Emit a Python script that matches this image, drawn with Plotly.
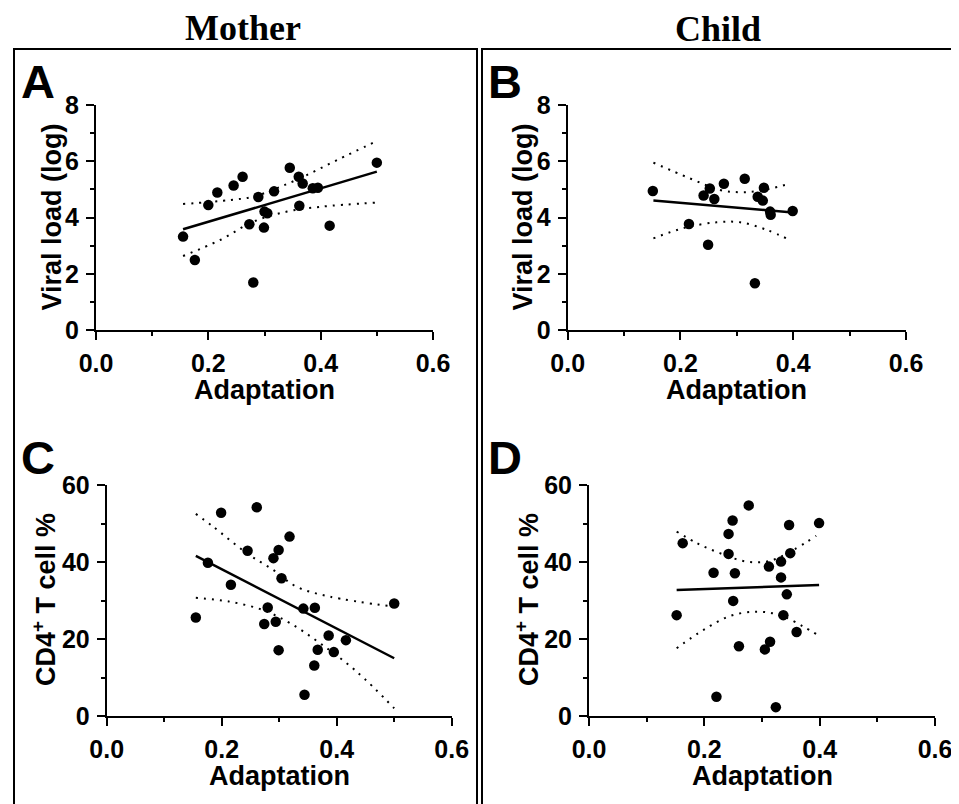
import plotly.graph_objects as go

# ---------------- data ----------------
# Panel A: Mother, viral load vs adaptation
mother_vl_adapt = [0.155, 0.176, 0.200, 0.216, 0.245, 0.261, 0.273, 0.280, 0.289, 0.299, 0.300,
                   0.305, 0.317, 0.345, 0.361, 0.362, 0.368, 0.386, 0.395, 0.416, 0.500]
mother_vl = [3.32, 2.49, 4.44, 4.89, 5.14, 5.45, 3.76, 1.69, 4.73, 3.64, 4.21,
             4.15, 4.93, 5.77, 5.45, 4.42, 5.21, 5.04, 5.06, 3.71, 5.95]
mother_vl_fit_x = [0.155, 0.500]
mother_vl_fit_y = [3.58, 5.63]
mother_vl_upper_x = [0.155, 0.239, 0.280, 0.322, 0.369, 0.429, 0.500]
mother_vl_upper_y = [4.48, 4.62, 4.74, 5.04, 5.45, 6.04, 6.72]
mother_vl_lower_x = [0.155, 0.221, 0.280, 0.340, 0.399, 0.500]
mother_vl_lower_y = [2.63, 3.20, 3.85, 4.21, 4.38, 4.53]

# Panel B: Child, viral load vs adaptation
child_vl_adapt = [0.151, 0.215, 0.241, 0.249, 0.252, 0.260, 0.277, 0.314, 0.332, 0.337, 0.346,
                  0.348, 0.359, 0.360, 0.399]
child_vl = [4.94, 3.77, 4.78, 3.03, 5.03, 4.66, 5.20, 5.38, 1.66, 4.74, 4.60,
            5.06, 4.21, 4.10, 4.23]
child_vl_fit_x = [0.152, 0.399]
child_vl_fit_y = [4.60, 4.18]
child_vl_upper_x = [0.152, 0.217, 0.270, 0.306, 0.341, 0.391]
child_vl_upper_y = [5.95, 5.39, 4.98, 4.90, 4.95, 5.19]
child_vl_lower_x = [0.152, 0.205, 0.264, 0.306, 0.353, 0.394]
child_vl_lower_y = [3.26, 3.62, 3.83, 3.83, 3.56, 3.20]

# Panel C: Mother, CD4+ T cell % vs adaptation
mother_cd4_adapt = [0.155, 0.176, 0.199, 0.216, 0.245, 0.261, 0.274, 0.280, 0.290, 0.294, 0.299,
                    0.299, 0.304, 0.318, 0.342, 0.344, 0.361, 0.362, 0.367, 0.386, 0.395,
                    0.416, 0.500]
mother_cd4 = [25.6, 39.8, 52.8, 34.1, 42.9, 54.2, 23.9, 28.2, 41.0, 24.5, 43.1,
              17.1, 35.8, 46.6, 27.9, 5.5, 13.1, 28.1, 17.2, 20.9, 16.6,
              19.7, 29.2]
mother_cd4_fit_x = [0.155, 0.500]
mother_cd4_fit_y = [41.6, 15.0]
mother_cd4_upper_x = [0.155, 0.185, 0.2435, 0.290, 0.330, 0.388, 0.500]
mother_cd4_upper_y = [52.5, 49.2, 42.3, 37.9, 33.6, 31.0, 28.4]
mother_cd4_lower_x = [0.155, 0.214, 0.272, 0.319, 0.371, 0.435, 0.500]
mother_cd4_lower_y = [30.7, 29.7, 27.5, 24.1, 18.9, 11.5, 2.0]

# Panel D: Child, CD4+ T cell % vs adaptation
child_cd4_adapt = [0.152, 0.1625, 0.216, 0.221, 0.242, 0.242, 0.249, 0.250, 0.253, 0.260, 0.277,
                   0.305, 0.312, 0.314, 0.324, 0.333, 0.333, 0.337, 0.343, 0.347, 0.349,
                   0.360, 0.399]
child_cd4 = [26.2, 44.9, 37.2, 5.0, 47.3, 42.1, 50.8, 29.9, 37.1, 18.1, 54.7,
             17.3, 38.8, 19.3, 2.3, 40.1, 36.0, 26.2, 31.6, 49.6, 42.3,
             21.8, 50.1]
child_cd4_fit_x = [0.152, 0.399]
child_cd4_fit_y = [32.7, 34.0]
child_cd4_upper_x = [0.152, 0.187, 0.227, 0.273, 0.314, 0.354, 0.394]
child_cd4_upper_y = [47.9, 44.9, 42.3, 40.1, 40.3, 43.1, 46.8]
child_cd4_lower_x = [0.152, 0.198, 0.245, 0.291, 0.331, 0.372, 0.394]
child_cd4_lower_y = [17.6, 22.3, 26.0, 27.1, 26.2, 23.2, 21.3]

x_title = "Adaptation"
vl_title = "Viral load (log)"
cd4_title = "CD4<sup>+</sup> T cell %"
group_titles = ["Mother", "Child"]
panel_letters = ["A", "B", "C", "D"]

# ---------------- layout helpers ----------------
# The page body has an 8px margin, so the figure is drawn 8px in from the window corner.
OFF = 8
W, H = 959 - OFF, 804 - OFF
def fx(p):
    return (p - OFF) / W
def fy(p):
    return 1 - (p - OFF) / H

SANS = "Liberation Sans, Arial, sans-serif"
SERIF = "Liberation Serif, Times New Roman, serif"

fig = go.Figure()

panels = [
    dict(ax="", x=mother_vl_adapt, y=mother_vl, fx_=mother_vl_fit_x, fy_=mother_vl_fit_y,
         ux=mother_vl_upper_x, uy=mother_vl_upper_y, lx=mother_vl_lower_x, ly=mother_vl_lower_y),
    dict(ax="2", x=child_vl_adapt, y=child_vl, fx_=child_vl_fit_x, fy_=child_vl_fit_y,
         ux=child_vl_upper_x, uy=child_vl_upper_y, lx=child_vl_lower_x, ly=child_vl_lower_y),
    dict(ax="3", x=mother_cd4_adapt, y=mother_cd4, fx_=mother_cd4_fit_x, fy_=mother_cd4_fit_y,
         ux=mother_cd4_upper_x, uy=mother_cd4_upper_y, lx=mother_cd4_lower_x, ly=mother_cd4_lower_y),
    dict(ax="4", x=child_cd4_adapt, y=child_cd4, fx_=child_cd4_fit_x, fy_=child_cd4_fit_y,
         ux=child_cd4_upper_x, uy=child_cd4_upper_y, lx=child_cd4_lower_x, ly=child_cd4_lower_y),
]

dot_line = dict(color="black", width=2, dash="2px,6px", shape="spline", smoothing=1)
for p in panels:
    xa, ya = "x" + p["ax"], "y" + p["ax"]
    fig.add_trace(go.Scatter(x=p["ux"], y=p["uy"], mode="lines", line=dot_line,
                             xaxis=xa, yaxis=ya, showlegend=False, hoverinfo="skip"))
    fig.add_trace(go.Scatter(x=p["lx"], y=p["ly"], mode="lines", line=dot_line,
                             xaxis=xa, yaxis=ya, showlegend=False, hoverinfo="skip"))
    fig.add_trace(go.Scatter(x=p["fx_"], y=p["fy_"], mode="lines",
                             line=dict(color="black", width=2.5),
                             xaxis=xa, yaxis=ya, showlegend=False, hoverinfo="skip"))
    fig.add_trace(go.Scatter(x=p["x"], y=p["y"], mode="markers",
                             marker=dict(color="black", size=10.5, line=dict(width=0)),
                             cliponaxis=False,
                             xaxis=xa, yaxis=ya, showlegend=False))

tickfont = dict(family=SANS, size=25, color="black", weight="bold")

def xaxis(dom, anchor):
    return dict(domain=dom, anchor=anchor, range=[0, 0.6], tickvals=[0, 0.2, 0.4, 0.6],
                tickformat=".1f", showline=True, linewidth=2, linecolor="black",
                ticks="outside", ticklen=8, tickwidth=2, tickcolor="black",
                minor=dict(tickvals=[0.1, 0.3, 0.5], ticks="outside", ticklen=4,
                           tickwidth=2, tickcolor="black"),
                showgrid=False, zeroline=False, tickfont=tickfont, ticklabelstandoff=2,
                automargin=False, fixedrange=True)

def yaxis(dom, anchor, rng, major, minor):
    return dict(domain=dom, anchor=anchor, range=rng, tickvals=major,
                showline=True, linewidth=2, linecolor="black",
                ticks="outside", ticklen=8, tickwidth=2, tickcolor="black",
                minor=dict(tickvals=minor, ticks="outside", ticklen=4,
                           tickwidth=2, tickcolor="black"),
                showgrid=False, zeroline=False, tickfont=tickfont, ticklabelstandoff=2,
                automargin=False, fixedrange=True)

top_y = [fy(330), fy(105)]
bot_y = [fy(716), fy(485)]

layout = dict(
    template="none",
    width=W, height=H, margin=dict(l=0, r=0, t=0, b=0, pad=0, autoexpand=False),
    paper_bgcolor="white", plot_bgcolor="white", showlegend=False,
    xaxis=xaxis([fx(96), fx(433)], "y"),
    yaxis=yaxis(top_y, "x", [0, 8], [0, 2, 4, 6, 8], [1, 3, 5, 7]),
    xaxis2=xaxis([fx(567.7), fx(906)], "y2"),
    yaxis2=yaxis(top_y, "x2", [0, 8], [0, 2, 4, 6, 8], [1, 3, 5, 7]),
    xaxis3=xaxis([fx(106.7), fx(451.7)], "y3"),
    yaxis3=yaxis(bot_y, "x3", [0, 60], [0, 20, 40, 60], [10, 30, 50]),
    xaxis4=xaxis([fx(589), fx(935)], "y4"),
    yaxis4=yaxis(bot_y, "x4", [0, 60], [0, 20, 40, 60], [10, 30, 50]),
)
fig.update_layout(**layout)

ann = []
def add_text(text, x, y, size, family=SANS, angle=0, weight="bold"):
    ann.append(dict(text=text, x=fx(x), y=fy(y), xref="paper", yref="paper",
                    xanchor="center", yanchor="middle", showarrow=False, textangle=angle,
                    font=dict(family=family, size=size, color="black", weight=weight)))

# group headers
add_text(group_titles[0], 243, 28, 36, family=SERIF)
add_text(group_titles[1], 718, 29, 36, family=SERIF)
# panel letters
add_text(panel_letters[0], 38, 81, 47)
add_text(panel_letters[1], 505, 81, 47)
add_text(panel_letters[2], 38, 458, 47)
add_text(panel_letters[3], 505, 458, 47)
# axis titles
add_text(x_title, 264.5, 390, 27)
add_text(x_title, 736.8, 390, 27)
add_text(x_title, 279, 776, 27)
add_text(x_title, 762, 776, 27)
add_text(vl_title, 51, 217.5, 27, angle=-90)
add_text(vl_title, 522, 217.5, 27, angle=-90)
add_text(cd4_title, 44, 600, 27, angle=-90)
add_text(cd4_title, 527, 600, 27, angle=-90)

shapes = [
    dict(type="rect", xref="paper", yref="paper", x0=fx(14), x1=fx(477), y0=fy(806), y1=fy(49),
         line=dict(color="black", width=2)),
    dict(type="rect", xref="paper", yref="paper", x0=fx(482), x1=fx(956), y0=fy(806), y1=fy(49),
         line=dict(color="black", width=2)),
]
fig.update_layout(annotations=ann, shapes=shapes)

fig.write_html("out.html")
